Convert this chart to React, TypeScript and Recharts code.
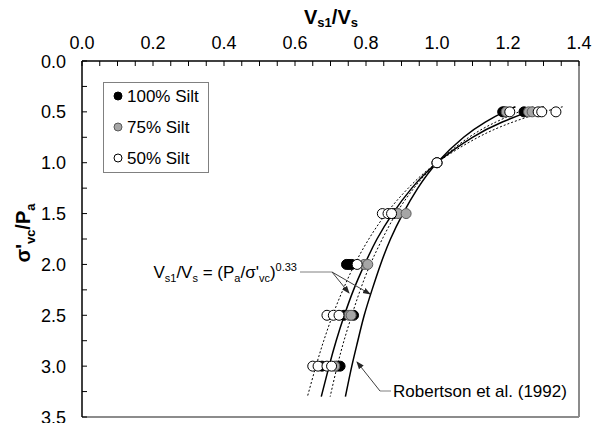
import { ScatterChart, Scatter, XAxis, YAxis, ReferenceLine } from "recharts";

// normalized stress levels where Vs was measured
const silt100 = [
  { x: 1.185, y: 0.5 }, { x: 1.19, y: 0.5 }, { x: 1.245, y: 0.5 },
  { x: 1.0, y: 1.0 },
  { x: 0.878, y: 1.5 },
  { x: 0.745, y: 2.0 }, { x: 0.752, y: 2.0 }, { x: 0.76, y: 2.0 },
  { x: 0.738, y: 2.5 }, { x: 0.765, y: 2.5 },
  { x: 0.676, y: 3.0 }, { x: 0.718, y: 3.0 }, { x: 0.727, y: 3.0 },
];
const silt75 = [
  { x: 1.195, y: 0.5 }, { x: 1.258, y: 0.5 }, { x: 1.268, y: 0.5 },
  { x: 1.0, y: 1.0 },
  { x: 0.89, y: 1.5 }, { x: 0.913, y: 1.5 },
  { x: 0.795, y: 2.0 }, { x: 0.805, y: 2.0 },
  { x: 0.752, y: 2.5 }, { x: 0.758, y: 2.5 },
  { x: 0.712, y: 3.0 },
];
const silt50 = [
  { x: 1.205, y: 0.5 }, { x: 1.285, y: 0.5 }, { x: 1.295, y: 0.5 }, { x: 1.335, y: 0.5 },
  { x: 1.0, y: 1.0 },
  { x: 0.846, y: 1.5 }, { x: 0.862, y: 1.5 }, { x: 0.872, y: 1.5 },
  { x: 0.775, y: 2.0 },
  { x: 0.69, y: 2.5 }, { x: 0.708, y: 2.5 }, { x: 0.724, y: 2.5 },
  { x: 0.65, y: 3.0 }, { x: 0.665, y: 3.0 }, { x: 0.69, y: 3.0 }, { x: 0.703, y: 3.0 },
];

// curves read along the stress axis
const curveDepth = [0.45, 0.5, 0.6, 0.75, 1.0, 1.25, 1.5, 1.75, 2.0, 2.25, 2.5, 2.75, 3.0, 3.3];
const upperFitX = [1.354, 1.301, 1.214, 1.116, 1.0, 0.919, 0.857, 0.808, 0.768, 0.735, 0.706, 0.681, 0.659, 0.635];
const meanFitX = [1.301, 1.257, 1.184, 1.1, 1.0, 0.929, 0.875, 0.831, 0.796, 0.765, 0.739, 0.716, 0.696, 0.674];
const lowerFitX = [1.271, 1.231, 1.166, 1.09, 1.0, 0.935, 0.885, 0.846, 0.812, 0.784, 0.76, 0.738, 0.719, 0.699];
const robertsonX = [1.221, 1.189, 1.136, 1.075, 1.0, 0.946, 0.904, 0.869, 0.841, 0.817, 0.795, 0.777, 0.76, 0.742];

const xTicks = [
  0, 0.05, 0.1, 0.15, 0.2, 0.25, 0.3, 0.35, 0.4, 0.45, 0.5, 0.55, 0.6, 0.65, 0.7,
  0.75, 0.8, 0.85, 0.9, 0.95, 1.0, 1.05, 1.1, 1.15, 1.2, 1.25, 1.3, 1.35, 1.4,
];
const yTicks = [0, 0.25, 0.5, 0.75, 1.0, 1.25, 1.5, 1.75, 2.0, 2.25, 2.5, 2.75, 3.0, 3.25, 3.5];

const FONT = "'Liberation Sans', Arial, sans-serif";

const series = [
  { name: "100% Silt", data: silt100, fill: "#000000", stroke: "#000000" },
  { name: "75% Silt", data: silt75, fill: "#a6a6a6", stroke: "#595959" },
  { name: "50% Silt", data: silt50, fill: "#ffffff", stroke: "#000000" },
];

const curves = [
  { name: "upper", xs: upperFitX, dash: "2 2", width: 1 },
  { name: "mean", xs: meanFitX, dash: undefined, width: 1.5 },
  { name: "lower", xs: lowerFitX, dash: "2 2", width: 1 },
  { name: "robertson", xs: robertsonX, dash: undefined, width: 1.5 },
];

const isMultiple = (v: number, step: number) => Math.abs(v / step - Math.round(v / step)) < 1e-6;

function TopTick(props: any) {
  const { x, y, payload } = props;
  const v = payload.value as number;
  return (
    <g>
      <line x1={x} y1={y} x2={x} y2={y + 5} stroke="#000" strokeWidth={1} />
      {isMultiple(v, 0.2) && (
        <text x={x} y={y - 12} textAnchor="middle" fontSize={18} fontFamily={FONT} fill="#000">
          {v.toFixed(1)}
        </text>
      )}
    </g>
  );
}

function LeftTick(props: any) {
  const { x, y, payload } = props;
  const v = payload.value as number;
  return (
    <g>
      <line x1={x} y1={y} x2={x + 5} y2={y} stroke="#000" strokeWidth={1} />
      {isMultiple(v, 0.5) && (
        <text x={x - 16} y={y + 6.5} textAnchor="end" fontSize={18} fontFamily={FONT} fill="#000">
          {v.toFixed(1)}
        </text>
      )}
    </g>
  );
}

const dot = (fill: string, stroke: string) => (p: any) =>
  <circle cx={p.cx} cy={p.cy} r={5} fill={fill} stroke={stroke} strokeWidth={1} />;

const noDot = () => <g />;

export default function App() {
  return (
    <div style={{ position: "absolute", left: 0, top: 0, width: 601, height: 423, background: "#fff" }}>
      <ScatterChart width={601} height={423} margin={{ top: 0, right: 22, bottom: 6, left: 0 }}>
        <XAxis
          type="number"
          dataKey="x"
          orientation="top"
          domain={[0, 1.4]}
          ticks={xTicks}
          interval={0}
          height={61}
          tickSize={0}
          tickMargin={0}
          tickLine={false}
          tick={<TopTick />}
          axisLine={{ stroke: "#000", strokeWidth: 1.5 }}
        />
        <YAxis
          type="number"
          dataKey="y"
          reversed
          domain={[0, 3.5]}
          ticks={yTicks}
          interval={0}
          width={82}
          tickSize={0}
          tickMargin={0}
          tickLine={false}
          tick={<LeftTick />}
          axisLine={{ stroke: "#000", strokeWidth: 1.5 }}
        />
        <ReferenceLine x={1.4} stroke="#8c8c8c" strokeWidth={2} />
        <ReferenceLine y={3.5} stroke="#8c8c8c" strokeWidth={2} />
        {curves.map((c) => (
          <Scatter
            key={c.name}
            name={c.name}
            data={c.xs.map((x, i) => ({ x, y: curveDepth[i] }))}
            line={{ stroke: "#000", strokeWidth: c.width, strokeDasharray: c.dash }}
            lineJointType="natural"
            shape={noDot}
            legendType="none"
            isAnimationActive={false}
          />
        ))}
        {series.map((s) => (
          <Scatter
            key={s.name}
            name={s.name}
            data={s.data}
            shape={dot(s.fill, s.stroke)}
            isAnimationActive={false}
          />
        ))}
      </ScatterChart>
      <svg
        width={601}
        height={423}
        style={{ position: "absolute", left: 0, top: 0, pointerEvents: "none" }}
        fontFamily={FONT}
      >
        <defs>
          <marker id="arrow" markerWidth={8} markerHeight={8} refX={7} refY={4} orient="auto" markerUnits="userSpaceOnUse">
            <path d="M0,1 L8,4 L0,7 z" fill="#262626" />
          </marker>
        </defs>
        {/* axis titles */}
        <text x={331} y={24} textAnchor="middle" fontSize={20} fontWeight="bold">
          V<tspan dy={3} fontSize={13}>s1</tspan>
          <tspan dy={-3}>/V</tspan>
          <tspan dy={3} fontSize={13}>s</tspan>
        </text>
        <text x={30} y={233} textAnchor="middle" fontSize={20} fontWeight="bold" transform="rotate(-90 30 233)">
          σ'<tspan dy={5} fontSize={13}>vc</tspan>
          <tspan dy={-5}>/P</tspan>
          <tspan dy={5} fontSize={13}>a</tspan>
        </text>
        {/* legend */}
        <rect x={103.5} y={82.5} width={105} height={90} fill="#fff" stroke="#808080" strokeWidth={1} />
        {series.map((s, i) => (
          <g key={s.name}>
            <circle cx={118} cy={96 + i * 31} r={4} fill={s.fill} stroke={s.stroke} strokeWidth={1} />
            <text x={127} y={102 + i * 31} fontSize={17}>{s.name}</text>
          </g>
        ))}
        {/* fit annotation */}
        <text x={297} y={278} textAnchor="end" fontSize={17}>
          V<tspan dy={4} fontSize={11}>s1</tspan>
          <tspan dy={-4}>/V</tspan>
          <tspan dy={4} fontSize={11}>s</tspan>
          <tspan dy={-4}> = (P</tspan>
          <tspan dy={4} fontSize={11}>a</tspan>
          <tspan dy={-4}>/σ'</tspan>
          <tspan dy={4} fontSize={11}>vc</tspan>
          <tspan dy={-4}>)</tspan>
          <tspan dy={-7} fontSize={11}>0.33</tspan>
        </text>
        <line x1={300} y1={272} x2={332} y2={272} stroke="#808080" strokeWidth={1} />
        <line x1={332} y1={272} x2={349} y2={293} stroke="#404040" strokeWidth={1} markerEnd="url(#arrow)" />
        <line x1={332} y1={272} x2={370} y2={294} stroke="#404040" strokeWidth={1} markerEnd="url(#arrow)" />
        {/* Robertson annotation */}
        <line x1={380} y1={391} x2={391} y2={391} stroke="#808080" strokeWidth={1} />
        <line x1={380} y1={391} x2={357} y2={362} stroke="#404040" strokeWidth={1} markerEnd="url(#arrow)" />
        <text x={393} y={397} fontSize={17}>Robertson et al. (1992)</text>
      </svg>
    </div>
  );
}
